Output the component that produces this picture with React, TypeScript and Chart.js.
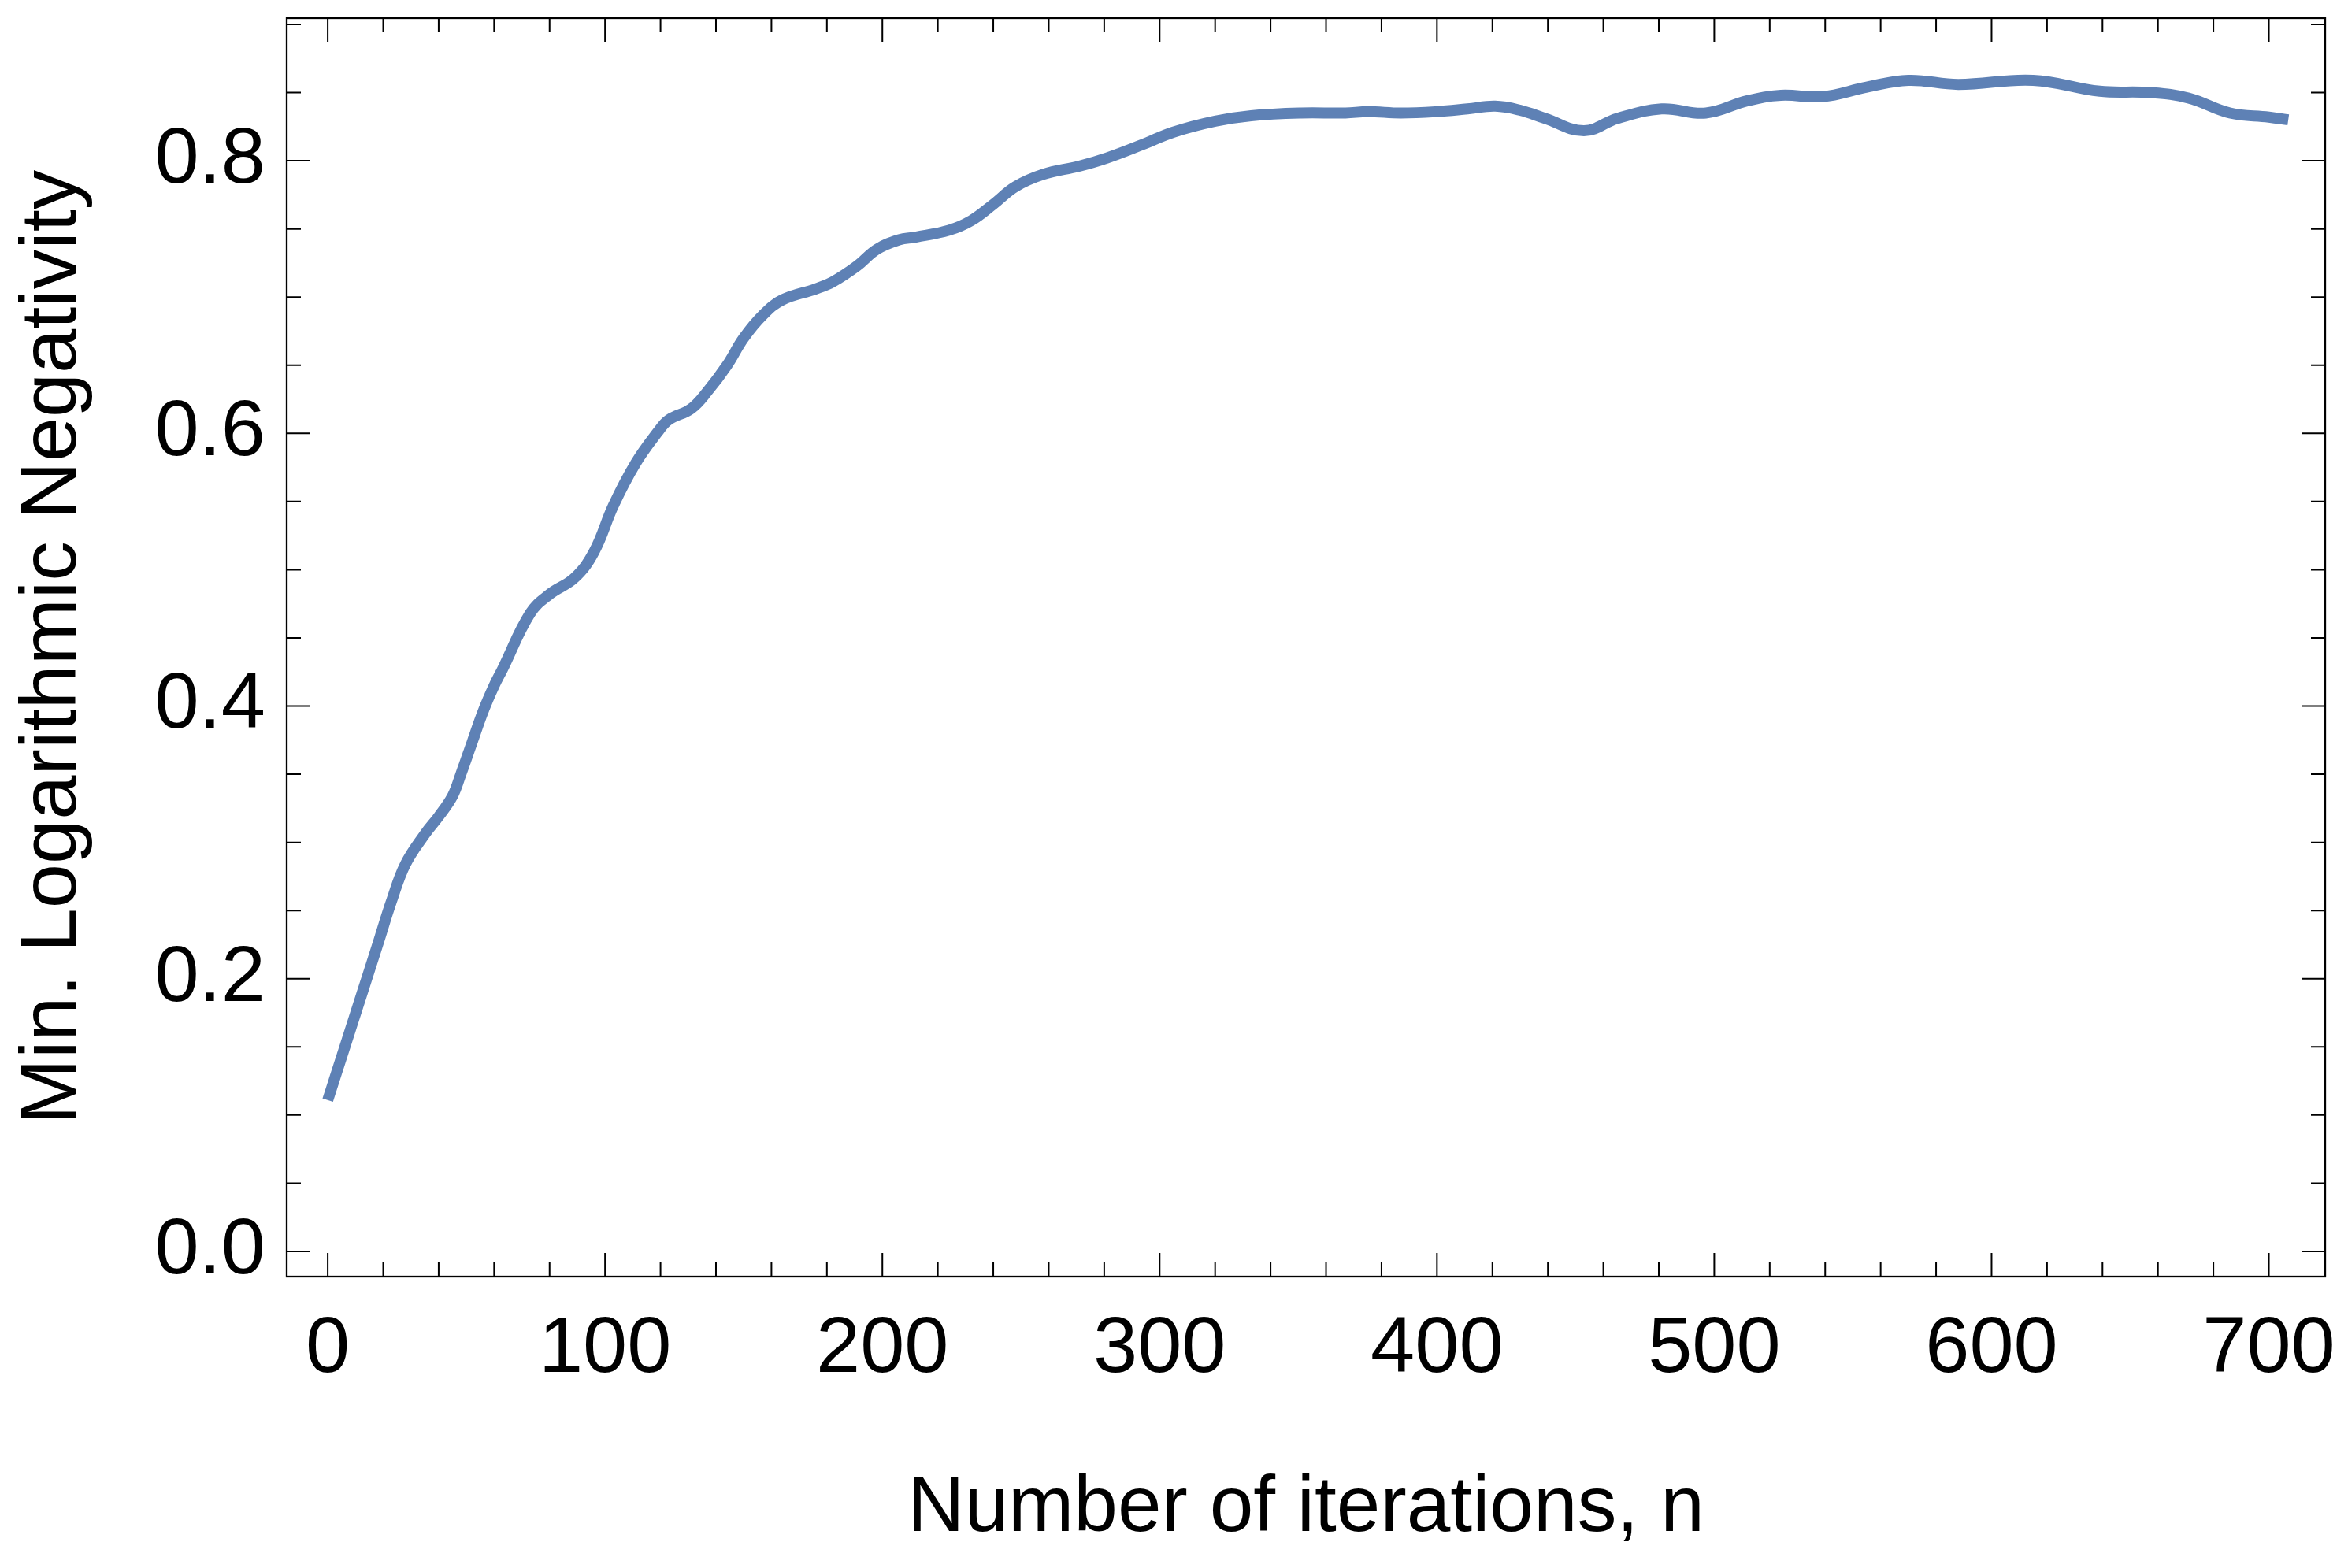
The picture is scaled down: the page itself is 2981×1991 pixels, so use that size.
import React, { useEffect, useRef } from 'react';
import { Chart, registerables } from 'chart.js';

Chart.register(...registerables);

const W = 2981;
const H = 1991;

// Data
const iterations = [
  0, 6, 12, 18, 23, 28, 35, 40, 45, 48,
  52, 56, 60, 63, 73, 80, 89, 96, 103, 111,
  119, 123, 131, 137, 144, 150, 157, 164, 176, 182,
  191, 198, 206, 212, 224, 232, 240, 248, 258, 271,
  281, 294, 305, 320, 333, 351, 367, 375, 387, 400,
  411, 421, 430, 439, 453, 465, 481, 497, 512, 524,
  539, 555, 570, 588, 615, 639, 657, 671, 686, 700,
  707,
];
const negativity = [
  0.111, 0.149, 0.187, 0.225, 0.257, 0.284, 0.306, 0.319, 0.334, 0.350,
  0.373, 0.396, 0.415, 0.427, 0.468, 0.482, 0.494, 0.513, 0.547, 0.578,
  0.601, 0.610, 0.618, 0.631, 0.650, 0.670, 0.687, 0.698, 0.706, 0.711,
  0.723, 0.735, 0.742, 0.744, 0.749, 0.756, 0.768, 0.781, 0.790, 0.796,
  0.802, 0.812, 0.821, 0.829, 0.833, 0.835, 0.835, 0.836, 0.835, 0.836,
  0.838, 0.840, 0.837, 0.831, 0.822, 0.831, 0.838, 0.835, 0.844, 0.848,
  0.847, 0.854, 0.859, 0.856, 0.859, 0.851, 0.850, 0.846, 0.835, 0.832,
  0.830,
];

const xTickValues = [0, 100, 200, 300, 400, 500, 600, 700];
const yTickValues = [0, 0.2, 0.4, 0.6, 0.8];
const xMinorStep = 20;
const yMinorStep = 0.05;

const xTitle = 'Number of iterations, n';
const yTitle = 'Min. Logarithmic Negativity';

const X_MIN = -14.8;
const X_MAX = 720.3;
const Y_MIN = -0.0185;
const Y_MAX = 0.9046;

const FONT = '"Liberation Sans", Arial, sans-serif';
const LINE_COLOR = '#5E81B5';

const framePlugin = {
  id: 'mmaFrame',
  afterDraw(chart: any) {
    const { ctx, chartArea } = chart;
    const { left, right, top, bottom } = chartArea;
    const xs = chart.scales.x;
    const ys = chart.scales.y;
    const majorLen = 30;
    const minorLen = 18;
    ctx.save();
    ctx.strokeStyle = '#000';
    ctx.lineWidth = 2;
    ctx.beginPath();
    for (let i = 0; xMinorStep * i <= xTickValues[xTickValues.length - 1]; i++) {
      const v = xMinorStep * i;
      const isMajor = xTickValues.some((t) => Math.abs(t - v) < 1e-9);
      const len = isMajor ? majorLen : minorLen;
      const px = xs.getPixelForValue(v);
      ctx.moveTo(px, bottom);
      ctx.lineTo(px, bottom - len);
      ctx.moveTo(px, top);
      ctx.lineTo(px, top + len);
    }
    for (let i = 0; yMinorStep * i <= Y_MAX + 1e-9; i++) {
      const v = Math.round(yMinorStep * i * 1000) / 1000;
      if (v > Y_MAX) break;
      const isMajor = yTickValues.some((t) => Math.abs(t - v) < 1e-9);
      const len = isMajor ? majorLen : minorLen;
      const py = ys.getPixelForValue(v);
      ctx.moveTo(left, py);
      ctx.lineTo(left + len, py);
      ctx.moveTo(right, py);
      ctx.lineTo(right - len, py);
    }
    ctx.stroke();
    ctx.lineWidth = 2.3;
    ctx.strokeRect(left, top, right - left, bottom - top);
    ctx.restore();
  },
};

export default function App() {
  const canvasRef = useRef<HTMLCanvasElement>(null);

  useEffect(() => {
    const canvas = canvasRef.current;
    if (!canvas) return;
    const points = iterations.map((n, i) => ({ x: n, y: negativity[i] }));
    const chart = new Chart(canvas, {
      type: 'line',
      data: {
        datasets: [
          {
            data: points,
            borderColor: LINE_COLOR,
            borderWidth: 14,
            pointRadius: 0,
            fill: false,
            tension: 0.4,
            borderCapStyle: 'butt',
            borderJoinStyle: 'round',
          },
        ],
      },
      options: {
        responsive: false,
        maintainAspectRatio: false,
        devicePixelRatio: 1,
        animation: false,
        color: '#000',
        layout: { padding: { left: 0, top: 23, right: 29, bottom: 0 } },
        plugins: {
          legend: { display: false },
          tooltip: { enabled: false },
          title: { display: false },
        },
        scales: {
          x: {
            type: 'linear',
            min: X_MIN,
            max: X_MAX,
            grid: { display: false, drawTicks: false },
            border: { display: false },
            afterBuildTicks: (scale: any) => {
              scale.ticks = xTickValues.map((v) => ({ value: v }));
            },
            afterFit: (scale: any) => {
              scale.height = H - 1621;
              scale.paddingLeft = 0;
              scale.paddingRight = 0;
            },
            ticks: {
              autoSkip: false,
              maxRotation: 0,
              minRotation: 0,
              padding: 33,
              color: '#000',
              font: { family: FONT, size: 101 },
              callback: (v: any) => String(Math.round(Number(v))),
            },
            title: {
              display: true,
              text: xTitle,
              color: '#000',
              font: { family: FONT, size: 100 },
              padding: { top: 0, bottom: 15 },
            },
          },
          y: {
            type: 'linear',
            min: Y_MIN,
            max: Y_MAX,
            grid: { display: false, drawTicks: false },
            border: { display: false },
            afterBuildTicks: (scale: any) => {
              scale.ticks = yTickValues.map((v) => ({ value: v }));
            },
            afterFit: (scale: any) => {
              scale.width = 364;
              scale.paddingTop = 0;
              scale.paddingBottom = 0;
            },
            ticks: {
              padding: 27,
              color: '#000',
              font: { family: FONT, size: 101 },
              callback: (v: any) => Number(v).toFixed(1),
            },
            title: {
              display: true,
              text: yTitle,
              color: '#000',
              font: { family: FONT, size: 101 },
              padding: { top: 8, bottom: 0 },
            },
          },
        },
      },
      plugins: [framePlugin],
    });
    return () => chart.destroy();
  }, []);

  return (
    <div style={{ position: 'absolute', left: 0, top: 0, width: W, height: H, background: '#fff' }}>
      <canvas ref={canvasRef} width={W} height={H} style={{ display: 'block', width: W, height: H }} />
    </div>
  );
}
